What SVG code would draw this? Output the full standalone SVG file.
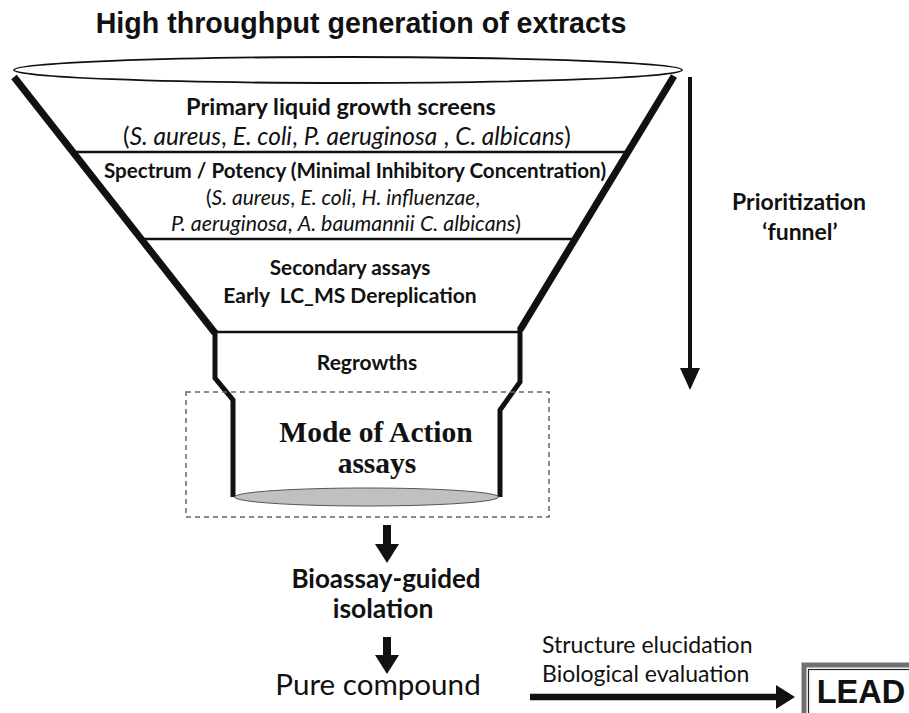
<svg xmlns="http://www.w3.org/2000/svg" width="909" height="713" viewBox="0 0 909 713">
<style>
.c{font-family:Lato,"Liberation Sans",sans-serif;fill:#111;text-anchor:middle}
.l{font-family:Lato,"Liberation Sans",sans-serif;fill:#111}
.b{font-weight:bold}
.i{font-style:italic}
.ar{font-family:"Liberation Sans",Arial,sans-serif;font-weight:bold;fill:#111;text-anchor:middle}
.sf{font-family:"Liberation Serif","Times New Roman",serif;font-weight:bold;fill:#111;text-anchor:middle}
.thick{fill:none;stroke:#111;stroke-width:7}
.neck{fill:none;stroke:#111;stroke-width:5;stroke-linejoin:miter}
.div{stroke:#111;stroke-width:2.5}
.conn{stroke:#111;fill:none}
</style>
<defs>
<marker id="head" markerUnits="userSpaceOnUse" markerWidth="19" markerHeight="24" viewBox="0 0 19 24" refX="0" refY="12" orient="auto">
<path d="M0,0 L19,12 L0,24 z" fill="#111"/>
</marker>
<marker id="headBig" markerUnits="userSpaceOnUse" markerWidth="22" markerHeight="20" viewBox="0 0 22 20" refX="0" refY="10" orient="auto">
<path d="M0,0 L22,10 L0,20 z" fill="#111"/>
</marker>
</defs>
<rect width="909" height="713" fill="#fff"/>

<g id="title">
<text class="ar" x="361" y="33" font-size="28.6">High throughput generation of extracts</text>
</g>

<g id="funnel">
<ellipse cx="348" cy="70" rx="334" ry="13" fill="none" stroke="#111" stroke-width="1.8"/>
<line class="thick" x1="14" y1="77" x2="215" y2="333"/>
<line class="thick" x1="674" y1="76" x2="520" y2="330"/>
<polyline class="neck" points="215,330 215,378 233,400 233,497"/>
<polyline class="neck" points="520,328 520,382 500,410 500,497"/>
<line class="div" x1="72" y1="152" x2="628" y2="152"/>
<line class="div" x1="141" y1="239" x2="575" y2="239"/>
<line class="div" x1="215" y1="332" x2="520" y2="332"/>
<ellipse cx="366.5" cy="497" rx="132" ry="9" fill="#c0c0c0" stroke="#555" stroke-width="1"/>
<rect x="186" y="392" width="363" height="125" fill="none" stroke="#666" stroke-width="1.5" stroke-dasharray="5 4"/>
</g>

<g id="primary">
<text class="c b" x="341" y="115" font-size="23.5">Primary liquid growth screens</text>
<text class="c" x="347" y="145" font-size="24.4">(<tspan class="i">S. aureus</tspan>, <tspan class="i">E. coli</tspan>, <tspan class="i">P. aeruginosa</tspan> , <tspan class="i">C. albicans</tspan>)</text>
</g>

<g id="spectrum">
<text class="c b" x="355" y="178" font-size="20.6">Spectrum / Potency (Minimal Inhibitory Concentration)</text>
<text class="c" x="343" y="205" font-size="21">(<tspan class="i">S. aureus</tspan>, <tspan class="i">E. coli</tspan>, <tspan class="i">H. influenzae</tspan>,</text>
<text class="c" x="346" y="231" font-size="21.3"><tspan class="i">P. aeruginosa</tspan>, <tspan class="i">A. baumannii</tspan> <tspan class="i">C. albicans</tspan>)</text>
</g>

<g id="secondary">
<text class="c b" x="350" y="275" font-size="20.8">Secondary assays</text>
<text class="c b" x="350" y="303" font-size="21" xml:space="preserve">Early  LC_MS Dereplication</text>
</g>

<g id="regrowths">
<text class="c b" x="367" y="370" font-size="21">Regrowths</text>
</g>

<g id="moa">
<text class="sf" x="376" y="442" font-size="29.5">Mode of Action</text>
<text class="sf" x="377" y="473" font-size="29.5">assays</text>
</g>

<g id="prioritization">
<text class="c b" x="799" y="210" font-size="23">Prioritization</text>
<text class="c b" x="800" y="240" font-size="23">‘funnel’</text>
</g>

<g id="bioassay">
<text class="c b" x="386" y="588" font-size="26">Bioassay-guided</text>
<text class="c b" x="383" y="618" font-size="26.5">isolation</text>
</g>

<g id="pure">
<text class="c" x="378" y="695" font-size="29.6">Pure compound</text>
</g>

<g id="lead">
<rect x="804" y="665" width="130" height="70" fill="#fff" stroke="#707070" stroke-width="5"/>
<rect x="808.5" y="669.5" width="120" height="60" fill="none" stroke="#222" stroke-width="1.2"/>
<text class="ar" x="861" y="703" font-size="32.5">LEAD</text>
</g>

<g id="connectors">
<line class="conn" x1="690" y1="77" x2="690" y2="368" stroke-width="4" marker-end="url(#headBig)"/>
<line class="conn" x1="387" y1="525" x2="387" y2="544" stroke-width="8" marker-end="url(#head)"/>
<line class="conn" x1="387" y1="637" x2="387" y2="655" stroke-width="8" marker-end="url(#head)"/>
<line class="conn" x1="530" y1="697" x2="776" y2="697" stroke-width="6.5" marker-end="url(#head)"/>
<text class="l" x="542" y="653" font-size="23">Structure elucidation</text>
<text class="l" x="542" y="682" font-size="23">Biological evaluation</text>
</g>
</svg>
